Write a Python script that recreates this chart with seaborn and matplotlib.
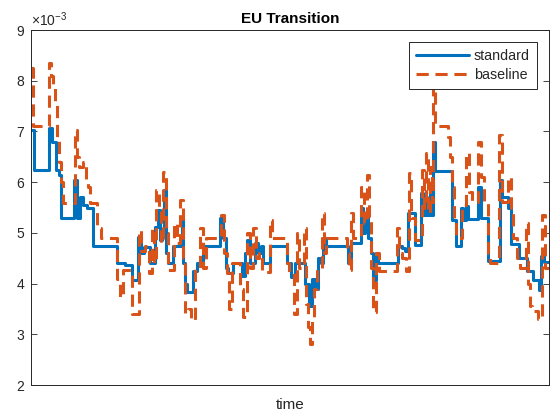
import numpy as np
import pandas as pd
import matplotlib
matplotlib.use("Agg")
import matplotlib.pyplot as plt
from matplotlib.lines import Line2D
import seaborn as sns

# ---- data (values in units of 1e-3); each value holds from its time until the next ----
standard_t = [0, 3, 18, 21, 25, 28, 30, 43, 46, 49,
              52, 56, 62, 86, 94, 101, 107, 110, 113, 119,
              124, 127, 129, 131, 133, 135, 137, 142, 151, 152,
              154, 156, 162, 166, 172, 189, 192, 195, 197, 202,
              211, 214, 216, 219, 224, 227, 230, 232, 239, 256,
              260, 264, 274, 278, 281, 284, 287, 290, 292, 295,
              317, 320, 330, 332, 334, 337, 340, 342, 345, 347,
              367, 371, 374, 377, 384, 390, 392, 394, 396, 399,
              401, 402, 404, 421, 425, 430, 432, 435, 437, 447,
              450, 457, 469, 471, 477, 480, 488, 496, 502, 508,
              510, 513, 518]
standard_v = [7.03, 6.24, 7.07, 6.8, 6.24, 6.14, 5.3, 6.05, 5.3, 5.71,
              5.55, 5.5, 4.75, 4.4, 4.37, 4.07, 4.92, 4.6, 4.73, 4.4,
              5.12, 5.45, 4.85, 5.0, 5.85, 4.6, 4.4, 4.75, 5.3, 4.4,
              4.0, 3.83, 4.25, 4.4, 4.75, 5.3, 4.9, 4.3, 4.2, 4.4,
              4.15, 4.6, 4.85, 4.4, 4.8, 4.6, 4.75, 4.4, 4.75, 4.4,
              4.13, 4.4, 4.0, 3.55, 4.1, 3.9, 4.5, 4.4, 4.9, 4.75,
              4.4, 4.8, 5.5, 5.0, 5.4, 4.9, 4.6, 4.07, 4.6, 4.4,
              4.75, 4.7, 4.65, 5.39, 4.76, 5.79, 5.35, 5.7, 5.35, 5.9,
              5.35, 6.8, 6.21, 5.25, 4.75, 5.5, 5.25, 5.53, 5.28, 5.9,
              5.3, 4.45, 6.05, 5.7, 5.5, 4.78, 4.5, 4.25, 4.08, 3.88,
              4.55, 4.42, 4.42]

baseline_t = [0, 2, 18, 20, 22, 24, 26, 28, 30, 32,
              44, 46, 48, 52, 55, 57, 59, 66, 70, 86,
              89, 92, 101, 108, 110, 114, 118, 121, 123, 125,
              128, 130, 132, 135, 137, 143, 146, 149, 152, 154,
              157, 160, 164, 169, 172, 175, 190, 193, 196, 198,
              201, 204, 209, 212, 216, 219, 222, 225, 228, 231,
              239, 241, 256, 258, 263, 266, 268, 273, 275, 277,
              279, 281, 283, 286, 291, 293, 295, 316, 318, 320,
              322, 330, 333, 336, 338, 340, 342, 345, 348, 366,
              368, 371, 375, 378, 380, 384, 391, 393, 395, 397,
              399, 401, 402, 404, 417, 419, 421, 423, 425, 431,
              435, 438, 441, 447, 450, 453, 457, 459, 468, 471,
              477, 480, 482, 486, 489, 495, 497, 499, 501, 507,
              511, 514, 518]
baseline_v = [8.25, 7.1, 8.35, 8.1, 7.9, 7.55, 6.9, 6.4, 6.0, 5.59,
              7.03, 6.5, 6.3, 6.4, 6.0, 5.9, 5.59, 5.1, 4.9, 4.1,
              3.74, 4.27, 3.4, 5.05, 4.65, 4.75, 4.2, 5.1, 4.4, 5.85,
              5.5, 4.8, 6.2, 5.0, 4.27, 5.2, 4.8, 5.65, 4.5, 3.42,
              3.5, 3.28, 4.3, 5.1, 4.3, 4.9, 5.35, 4.6, 4.2, 3.5,
              4.4, 4.4, 3.9, 3.35, 5.0, 4.3, 5.1, 4.5, 4.6, 4.23,
              5.25, 4.9, 4.4, 4.2, 3.4, 5.0, 4.3, 5.1, 3.6, 3.15,
              2.8, 3.3, 3.9, 4.3, 5.4, 4.6, 4.9, 4.6, 4.27, 5.4,
              4.9, 5.9, 5.2, 6.15, 5.3, 4.3, 3.43, 4.6, 4.25, 5.1,
              4.6, 4.5, 4.25, 6.18, 5.3, 4.86, 6.24, 5.5, 6.57, 5.4,
              6.3, 5.6, 8.1, 7.1, 6.9, 6.5, 5.9, 5.3, 4.9, 5.55,
              6.57, 5.8, 5.6, 6.8, 6.1, 5.6, 4.6, 4.4, 6.93, 5.6,
              6.1, 5.5, 4.9, 4.5, 4.3, 5.2, 4.0, 3.55, 3.45, 3.3,
              5.35, 4.3, 4.3]

series_names = ["standard", "baseline"]
y_ticks = [2, 3, 4, 5, 6, 7, 8, 9]

df = pd.concat([
    pd.DataFrame({"time": standard_t, "value": np.array(standard_v) * 1e-3, "series": "standard"}),
    pd.DataFrame({"time": baseline_t, "value": np.array(baseline_v) * 1e-3, "series": "baseline"}),
], ignore_index=True)

sns.set_theme(style="white")
plt.rcParams["font.family"] = ["Liberation Sans", "DejaVu Sans"]
plt.rcParams["mathtext.fontset"] = "custom"
plt.rcParams["mathtext.rm"] = "Liberation Sans"
plt.rcParams["mathtext.it"] = "Liberation Sans:italic"
plt.rcParams["mathtext.bf"] = "Liberation Sans:bold"

blue = "#0072BD"
orange = "#D95319"
dash = (4.0, 2.2)

fig = plt.figure(figsize=(5.56, 4.19), dpi=100)
ax = fig.add_axes([31 / 556, 1 - 385 / 419, 518 / 556, 355 / 419])

sns.lineplot(data=df, x="time", y="value", hue="series", style="series",
             hue_order=series_names, style_order=series_names,
             palette={"standard": blue, "baseline": orange},
             dashes={"standard": "", "baseline": dash},
             drawstyle="steps-post", linewidth=2.2, sort=False, estimator=None,
             legend=False, ax=ax)

ax.set_xlim(0, 518)
ax.set_ylim(0.002, 0.009)
ax.set_yticks([v * 1e-3 for v in y_ticks])
ax.ticklabel_format(axis="y", style="sci", scilimits=(-3, -3), useMathText=True)
ax.set_xticks([])
ax.tick_params(axis="y", direction="in", length=4, width=0.6, left=True, right=True,
               labelsize=10, colors="#262626", pad=4)
ax.yaxis.get_offset_text().set_fontsize(10)
for s in ax.spines.values():
    s.set_color("#262626")
    s.set_linewidth(0.7)

ax.set_xlabel("time", fontsize=11, color="#262626", labelpad=9)
ax.set_ylabel("")
ax.set_title("EU Transition", fontsize=11, fontweight="bold", color="black", pad=5)

handles = [Line2D([], [], color=blue, linewidth=2.2),
           Line2D([], [], color=orange, linewidth=2.2, dashes=dash)]
leg = ax.legend(handles, series_names, loc="upper right", fontsize=10.3, handlelength=3.7,
                frameon=True, fancybox=False, framealpha=1, edgecolor="#262626",
                borderaxespad=0.85, borderpad=0.5, labelspacing=0.32, handletextpad=0.3)
leg.get_frame().set_linewidth(0.7)
leg.set_zorder(10)

fig.savefig("out.png", dpi=100, facecolor="white")
